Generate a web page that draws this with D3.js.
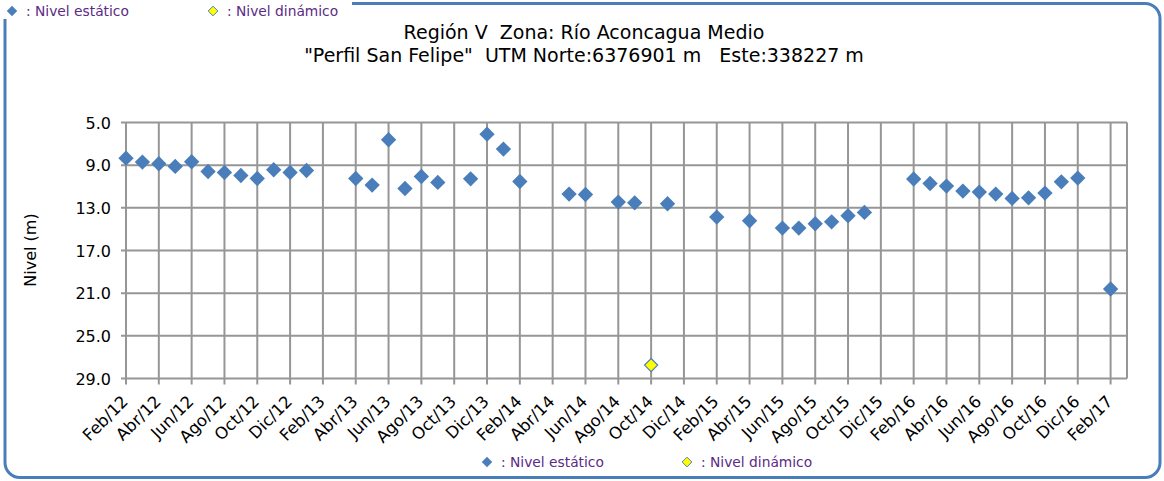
<!DOCTYPE html>
<html>
<head>
<meta charset="utf-8">
<script src="https://cdn.jsdelivr.net/npm/d3@7"></script>
<style>
  html, body { margin: 0; padding: 0; background: #fff; }
  svg { display: block; font-family: "DejaVu Sans", Verdana, sans-serif; }
  text { white-space: pre; }
</style>
</head>
<body>
<svg id="chart" width="1164" height="481"></svg>
<script>
// Static level readings (month "YYYY-MM", depth in m)
const staticMonths = [
  "2012-02","2012-03","2012-04","2012-05","2012-06","2012-07","2012-08","2012-09","2012-10","2012-11","2012-12","2013-01",
  "2013-04","2013-05","2013-06","2013-07","2013-08","2013-09","2013-11","2013-12","2014-01","2014-02",
  "2014-05","2014-06","2014-08","2014-09","2014-11",
  "2015-02","2015-04","2015-06","2015-07","2015-08","2015-09","2015-10","2015-11",
  "2016-02","2016-03","2016-04","2016-05","2016-06","2016-07","2016-08","2016-09","2016-10","2016-11","2016-12",
  "2017-02"
];
const staticLevels = [
  8.34, 8.71, 8.87, 9.12, 8.68, 9.59, 9.69, 9.97, 10.25, 9.43, 9.69, 9.50,
  10.25, 10.87, 6.62, 11.19, 10.06, 10.62, 10.28, 6.09, 7.49, 10.53,
  11.71, 11.75, 12.46, 12.53, 12.62,
  13.87, 14.21, 14.90, 14.90, 14.49, 14.31, 13.74, 13.43,
  10.30, 10.72, 10.96, 11.43, 11.52, 11.71, 12.12, 12.06, 11.62, 10.56, 10.21,
  20.61
];

// Dynamic level readings
const dynamicMonths = ["2014-10"];
const dynamicLevels = [27.74];

// Axis labels
const xTickLabels = [
  "Feb/12","Abr/12","Jun/12","Ago/12","Oct/12","Dic/12",
  "Feb/13","Abr/13","Jun/13","Ago/13","Oct/13","Dic/13",
  "Feb/14","Abr/14","Jun/14","Ago/14","Oct/14","Dic/14",
  "Feb/15","Abr/15","Jun/15","Ago/15","Oct/15","Dic/15",
  "Feb/16","Abr/16","Jun/16","Ago/16","Oct/16","Dic/16",
  "Feb/17"
];
const yTicks = [5, 9, 13, 17, 21, 25, 29];

const titleLines = [
  "Región V  Zona: Río Aconcagua Medio",
  "\"Perfil San Felipe\"  UTM Norte:6376901 m   Este:338227 m"
];
const legendItems = [": Nivel estático", ": Nivel dinámico"];

// Months counted from Feb 2012
const monthIndex = s => {
  const [y, m] = s.split("-").map(Number);
  return (y - 2012) * 12 + (m - 2);
};

const svg = d3.select("#chart");
const plot = { left: 126, right: 1127, top: 122.5, bottom: 378.5 };

const x = d3.scaleLinear().domain([0, 61]).range([plot.left, plot.right]);
const y = d3.scaleLinear().domain([5, 29]).range([plot.top, plot.bottom]);

const gridColor = "#969696";
const blue = "#4a7ebb";
const legendColor = "#5b2a86";

// Outer rounded frame
svg.append("rect")
  .attr("x", 5).attr("y", 3.5)
  .attr("width", 1155).attr("height", 474)
  .attr("rx", 15).attr("ry", 15)
  .attr("fill", "#fff")
  .attr("stroke", blue)
  .attr("stroke-width", 3);

// Top legend box sits over the frame's corner
svg.append("rect")
  .attr("x", 0).attr("y", 0)
  .attr("width", 352).attr("height", 19)
  .attr("fill", "#fff");

const diamond = d3.symbol().type(d3.symbolDiamond2);

function legend(g, x0, y0, gap) {
  legendItems.forEach((t, i) => {
    const gx = x0 + i * gap;
    g.append("path")
      .attr("d", diamond.size(i === 0 ? 70 : 60)())
      .attr("transform", `translate(${gx},${y0})`)
      .attr("fill", i === 0 ? blue : "#ffff00")
      .attr("stroke", i === 0 ? "none" : blue)
      .attr("stroke-width", 1);
    g.append("text")
      .attr("x", gx + 14).attr("y", y0 + 5)
      .attr("fill", legendColor)
      .attr("font-size", 13.8)
      .text(t);
  });
}
legend(svg.append("g"), 12, 11, 201);

// Title
svg.append("g").selectAll("text").data(titleLines).join("text")
  .attr("x", 584).attr("y", (d, i) => 39 + i * 23)
  .attr("text-anchor", "middle")
  .attr("font-size", 19)
  .attr("fill", "#000")
  .text(d => d);

// Gridlines
const xTickVals = xTickLabels.map((d, i) => i * 2);
const grid = svg.append("g").attr("stroke", gridColor).attr("stroke-width", 2);
grid.selectAll("line.v").data(xTickVals).join("line")
  .attr("x1", d => x(d)).attr("x2", d => x(d))
  .attr("y1", plot.top).attr("y2", plot.bottom + 6);
grid.selectAll("line.h").data(yTicks).join("line")
  .attr("x1", plot.left - 5).attr("x2", plot.right)
  .attr("y1", d => y(d)).attr("y2", d => y(d));
grid.append("line")
  .attr("x1", plot.right).attr("x2", plot.right)
  .attr("y1", plot.top).attr("y2", plot.bottom);

// Y axis labels
svg.append("g").selectAll("text").data(yTicks).join("text")
  .attr("x", 111).attr("y", d => y(d) + 6)
  .attr("text-anchor", "end")
  .attr("font-size", 16)
  .attr("fill", "#000")
  .text(d => d3.format(".1f")(d));

svg.append("text")
  .attr("transform", "translate(36,250) rotate(-90)")
  .attr("text-anchor", "middle")
  .attr("font-size", 16)
  .attr("fill", "#000")
  .text("Nivel (m)");

// X axis labels, rotated
svg.append("g").selectAll("text").data(xTickLabels).join("text")
  .attr("transform", (d, i) => `translate(${x(xTickVals[i]) + 3},${plot.bottom + 24}) rotate(-45)`)
  .attr("text-anchor", "end")
  .attr("font-size", 16.5)
  .attr("fill", "#000")
  .text(d => d);

// Static level points
svg.append("g").selectAll("path").data(staticMonths).join("path")
  .attr("d", diamond.size(150)())
  .attr("transform", (d, i) => `translate(${x(monthIndex(d))},${y(staticLevels[i])})`)
  .attr("fill", blue);

// Dynamic level points
svg.append("g").selectAll("path").data(dynamicMonths).join("path")
  .attr("d", diamond.size(110)())
  .attr("transform", (d, i) => `translate(${x(monthIndex(d))},${y(dynamicLevels[i])})`)
  .attr("fill", "#ffff00")
  .attr("stroke", blue)
  .attr("stroke-width", 1.2);

// Bottom legend
legend(svg.append("g"), 487, 462, 200);
</script>
</body>
</html>
